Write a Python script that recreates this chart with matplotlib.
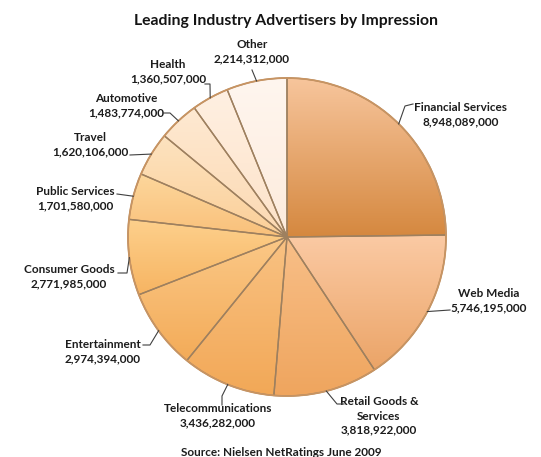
import numpy as np
import matplotlib
matplotlib.use("Agg")
import matplotlib.pyplot as plt
from matplotlib.colors import to_rgb

# data (impressions)
industries = ["Financial Services", "Web Media", "Retail Goods &\nServices",
              "Telecommunications", "Entertainment", "Consumer Goods",
              "Public Services", "Travel", "Automotive", "Health", "Other"]
impressions = [8948089000, 5746195000, 3818922000, 3436282000, 2974394000,
               2771985000, 1701580000, 1620106000, 1483774000, 1360507000,
               2214312000]

# gradient colours per slice (top, bottom)
grad_colors = [("#f7c59c", "#d5883f"), ("#fbcaa4", "#eba467"),
               ("#f8bf88", "#efa55e"), ("#f9c283", "#f2a857"),
               ("#fbc887", "#f3ab58"), ("#fdd08c", "#f7b462"),
               ("#fdd79c", "#f9c07a"), ("#fde3c0", "#fbcf98"),
               ("#fee9d2", "#fcd9b2"), ("#fff0e2", "#fde2c8"),
               ("#fff6ef", "#fdebdc")]

# label layout in pixel coords (text centre, leader points after the edge)
label_pos = [(461, 115), (489, 301), (379, 416), (218, 416), (103, 352),
             (69, 277), (75, 199), (90, 145), (126, 106), (168, 72), (252, 52)]
leaders = [[(405, 106), (413, 104)], [(450, 310)], [(337, 404), (344, 404)],
           [(222, 396), (222, 405)], [(150, 345), (143, 345)],
           [(127, 273), (118, 273)], [(117, 194)], [(130, 155)],
           [(170, 113), (163, 113)], [(210, 84), (205, 84)], [(252, 70)]]

W, H = 541, 457
cx, cy, r = 287, H - 237, 159

plt.rcParams['font.family'] = ['Lato', 'DejaVu Sans']
fig = plt.figure(figsize=(W / 100, H / 100), dpi=100)
ax = fig.add_axes([0, 0, 1, 1])

wedges, _ = ax.pie(impressions, startangle=90, counterclock=False,
                   center=(cx, cy), radius=r,
                   wedgeprops=dict(linewidth=1.0, edgecolor="#9e805f"))

for w, (ct, cb) in zip(wedges, grad_colors):
    w.set_facecolor("none")
    w.set_zorder(3)
    ext = w.get_path().get_extents()
    t = np.linspace(0, 1, 256)[:, None]
    grad = (1 - t) * np.array(to_rgb(cb)) + t * np.array(to_rgb(ct))
    im = ax.imshow(grad[:, None, :], extent=[ext.x0, ext.x1, ext.y0, ext.y1],
                   origin="lower", aspect="auto", zorder=2, interpolation="bilinear")
    im.set_clip_path(w)

ax.add_patch(plt.Circle((cx, cy), r, fill=False, edgecolor="#c89462",
                        linewidth=1.3, zorder=4))

for w, name, val, (tx, ty), pts in zip(wedges, industries, impressions,
                                       label_pos, leaders):
    ang = np.deg2rad((w.theta1 + w.theta2) / 2)
    ex, ey = cx + r * np.cos(ang), cy + r * np.sin(ang)
    xs = [ex] + [p[0] for p in pts]
    ys = [ey] + [H - p[1] for p in pts]
    ax.plot(xs, ys, color="#404040", linewidth=0.8, zorder=5)
    ax.text(tx, H - ty, f"{name}\n{val / 1000:,.0f},000", ha="center",
            va="center", fontsize=8.5, fontweight="bold", color="#1c1c1c",
            linespacing=1.35)

ax.text(286, H - 21, "Leading Industry Advertisers by Impression",
        ha="center", va="center", fontsize=11.3, fontweight="bold", color="#141414")
ax.text(281, H - 452, "Source: Nielsen NetRatings June 2009",
        ha="center", va="center", fontsize=8.5, fontweight="bold", color="#1c1c1c")

ax.set_xlim(0, W)
ax.set_ylim(0, H)
ax.axis("off")
fig.savefig("out.png", dpi=100)
